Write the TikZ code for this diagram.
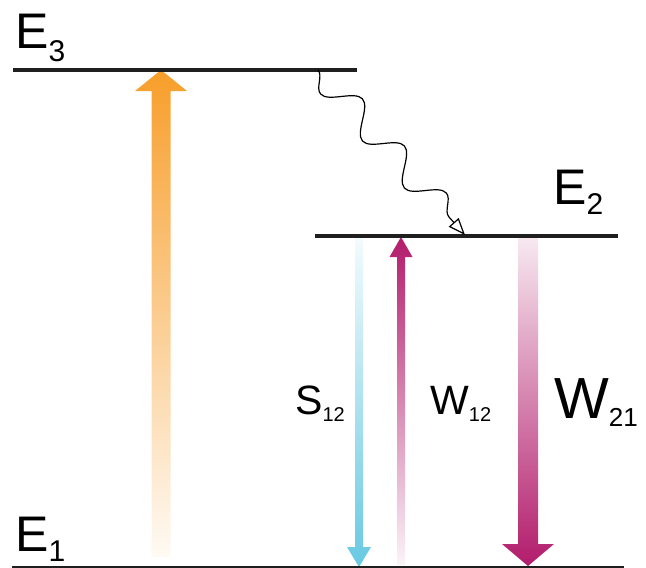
\documentclass[tikz,border=0pt]{standalone}
\usepackage{fontspec}
\setmainfont{Liberation Sans}
\usetikzlibrary{calc,arrows.meta,decorations.pathmorphing}
\definecolor{pumporange}{RGB}{247,158,42}
\definecolor{spontcyan}{RGB}{104,201,226}
\definecolor{stimmagenta}{RGB}{178,28,108}
\newcommand{\bigfont}{\fontsize{50}{50}\selectfont}
\newcommand{\subfont}{\fontsize{30}{30}\selectfont}
\newcommand{\midfont}{\fontsize{41}{41}\selectfont}
\newcommand{\smallsub}{\fontsize{20}{20}\selectfont}
% #1 shading, #2 tail, #3 tip, #4 half shaft, #5 half head, #6 head length (signed)
\newcommand{\fatarrow}[6]{%
	\shade[#1] ($(#2)+(-#4,0)$) -- ($(#3)+(-#4,#6)$) -- ($(#3)+(-#5,#6)$) -- (#3)
		-- ($(#3)+(#5,#6)$) -- ($(#3)+(#4,#6)$) -- ($(#2)+(#4,0)$) -- cycle;}
\begin{document}
\begin{tikzpicture}[x=1pt,y=-1pt,
	level/.style={line width=3.5pt,black!88},
	ground/.style={line width=1.4pt,black!88},
	wave/.style={decorate,decoration={snake,segment length=63pt,amplitude=-14pt,post length=20pt},
		line width=1.2pt,-{Triangle[open,width=13pt,length=17pt]}},
	lab/.style={anchor=base west,inner sep=0pt}]
	\useasboundingbox (0,0) rectangle (646,568);
	% level end points
	\coordinate (e3l) at (13,70);  \coordinate (e3r) at (357,70);
	\coordinate (e2l) at (315,236); \coordinate (e2r) at (618,236);
	\coordinate (e1l) at (12,567);  \coordinate (e1r) at (624,567);
	% arrow tails and tips
	\coordinate (pumpT) at (161,557); \coordinate (pumpH) at (161,70);
	\coordinate (sT) at (359,238);    \coordinate (sH) at (359,567);
	\coordinate (wuT) at (401,565);   \coordinate (wuH) at (401,237);
	\coordinate (wdT) at (528,238);   \coordinate (wdH) at (528,566);
	\fatarrow{top color=pumporange,bottom color=pumporange!5}{pumpT}{pumpH}{9.5}{26}{21}
	\fatarrow{top color=spontcyan!8,bottom color=spontcyan}{sT}{sH}{4}{12}{-20}
	\fatarrow{top color=stimmagenta,bottom color=stimmagenta!5}{wuT}{wuH}{4}{11.5}{20}
	\fatarrow{top color=stimmagenta!10,bottom color=stimmagenta}{wdT}{wdH}{10}{26}{-22}
	% levels
	\draw[level] (e3l) -- (e3r);
	\draw[level] (e2l) -- (e2r);
	\draw[ground] (e1l) -- (e1r);
	% relaxation E3 -> E2
	\coordinate (w1) at (318,70);
	\coordinate (w2) at (465,235);
	\draw[wave] (w1) -- (w2);
	% labels
	\node[lab] (E3) at (15,48) {\bigfont E\raisebox{-13pt}{\subfont 3}};
	\node[lab] (E2) at (553,204) {\bigfont E\raisebox{-10pt}{\subfont 2}};
	\node[lab] (E1) at (15,551) {\bigfont E\raisebox{-10pt}{\subfont 1}};
	\node[lab] (S12) at (295,414) {\midfont S\raisebox{-7pt}{\smallsub 12}};
	\node[lab] (W12) at (430,414) {\midfont W\raisebox{-7pt}{\smallsub 12}};
	\node[lab] (W21) at (554,418) {\fontsize{58}{58}\selectfont W\raisebox{-8pt}{\fontsize{26}{26}\selectfont 21}};
\end{tikzpicture}
\end{document}
